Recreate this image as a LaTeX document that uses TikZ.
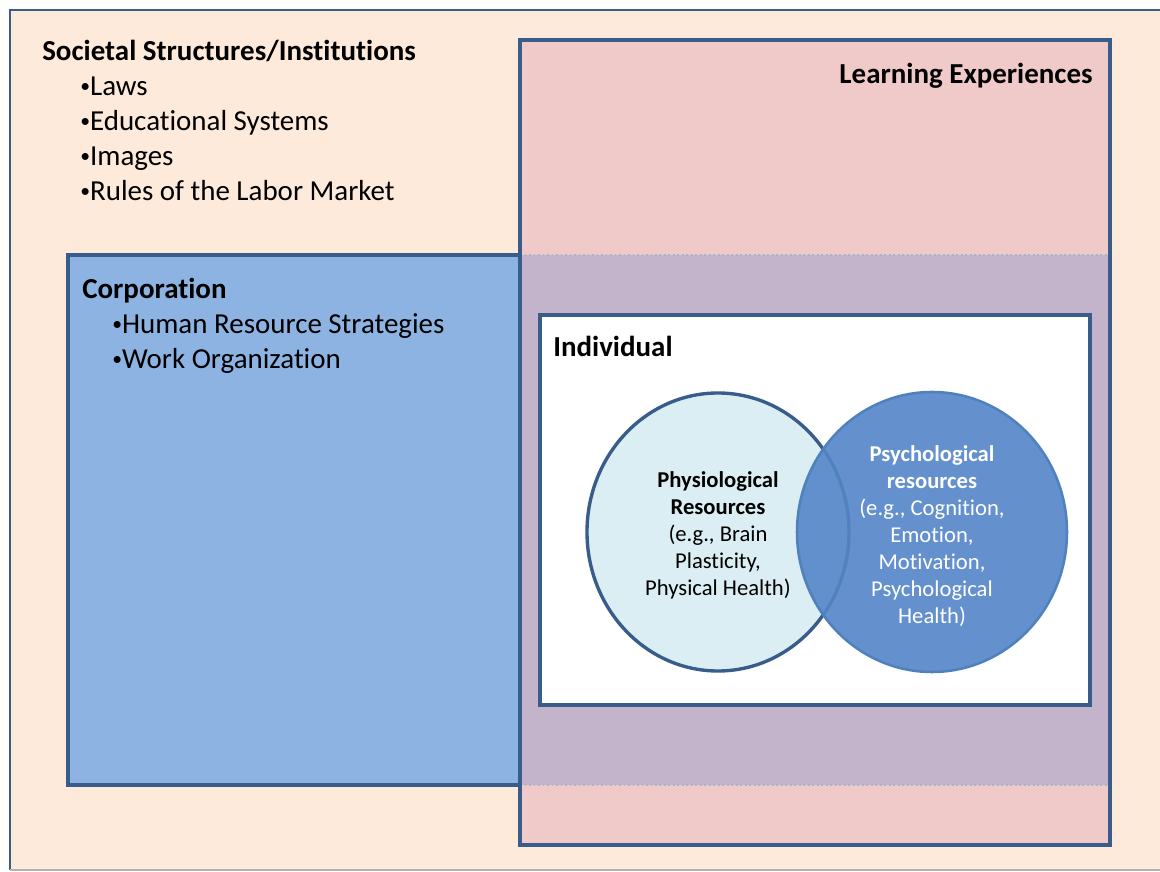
\documentclass[tikz,border=0pt]{standalone}
\usepackage{fontspec}
\setmainfont{Carlito}[Ligatures=NoCommon]
\definecolor{peach}{RGB}{253,234,218}
\definecolor{frameblue}{RGB}{56,93,138}
\definecolor{corpblue}{RGB}{141,179,226}
\definecolor{learnpink}{RGB}{231,181,188}
\definecolor{physblue}{RGB}{219,238,244}
\definecolor{psychblue}{RGB}{84,134,200}
\definecolor{psychline}{RGB}{79,129,189}
\newcommand{\bigtext}{\fontsize{20.6}{24.9}\selectfont}
\newcommand{\smalltext}{\fontsize{16.1}{19.2}\selectfont}
\newcommand{\dotmark}{\raisebox{0.12em}{\fontsize{14}{14}\selectfont\textbullet}}
\begin{document}
\begin{tikzpicture}[x=0.025cm,y=-0.025cm,
  boxline/.style={draw=frameblue,line width=2.6pt},
  heading/.style={font=\bigtext\bfseries,anchor=base west,inner sep=0pt},
  item/.style={font=\bigtext,anchor=base west,inner sep=0pt},
  circletext/.style={font=\smalltext,align=center,inner sep=0pt}]
  \useasboundingbox (0,0) rectangle (1160,872);
  \fill[white] (0,0) rectangle (1160,872);
  % outer frame
  \fill[peach] (10,10) rectangle (1165,870);
  \draw[frameblue,line width=1.6pt] (1165,10) -- (10,10) -- (10,870);
  \draw[gray!60,line width=1.4pt] (10,870) -- (1165,870);

  % corporation and learning experiences
  \fill[corpblue] (68,255) rectangle (1110,785);
  \fill[learnpink,fill opacity=0.6] (520,40) rectangle (1110,845);
  \draw[boxline] (520,255) -- (68,255) -- (68,785) -- (520,785);
  \draw[frameblue!45,line width=1.2pt,dotted] (520,255) -- (1110,255);
  \draw[frameblue!45,line width=1.2pt,dotted] (520,785) -- (1110,785);
  \draw[boxline] (520,40) rectangle (1110,845);

  % individual
  \draw[boxline,fill=white] (540,315) rectangle (1090,705);
  \draw[frameblue,line width=2.4pt,fill=physblue]
    (718,532) ellipse [x radius=131,y radius=139];
  \draw[psychline,line width=1.8pt,fill=psychblue,fill opacity=0.9]
    (932,532) ellipse [x radius=135,y radius=140];

  \node[heading] (society) at (42,61) {Societal Structures/Institutions};
  \foreach \name/\y/\txt in {laws/96/Laws,edu/131/Educational Systems,
      images/166/Images,labor/201/Rules of the Labor Market}
    \node[item] (\name) at (80,\y) {\dotmark\txt};

  \node[heading,anchor=base east] (learning) at (1093,84) {Learning Experiences};

  \node[heading] (corp) at (82,299) {Corporation};
  \node[item] (hrs) at (112,334) {\dotmark Human Resource Strategies};
  \node[item] (workorg) at (112,369) {\dotmark Work Organization};

  \node[heading] (indiv) at (553,357) {Individual};

  \node[circletext] (physio) at (718,535)
    {\textbf{Physiological}\\\textbf{Resources}\\(e.g., Brain\\Plasticity,\\Physical Health)};
  \node[circletext,text=white] (psycho) at (932,536)
    {\textbf{Psychological}\\\textbf{resources}\\(e.g., Cognition,\\Emotion,\\Motivation,\\Psychological\\Health)};
\end{tikzpicture}
\end{document}
